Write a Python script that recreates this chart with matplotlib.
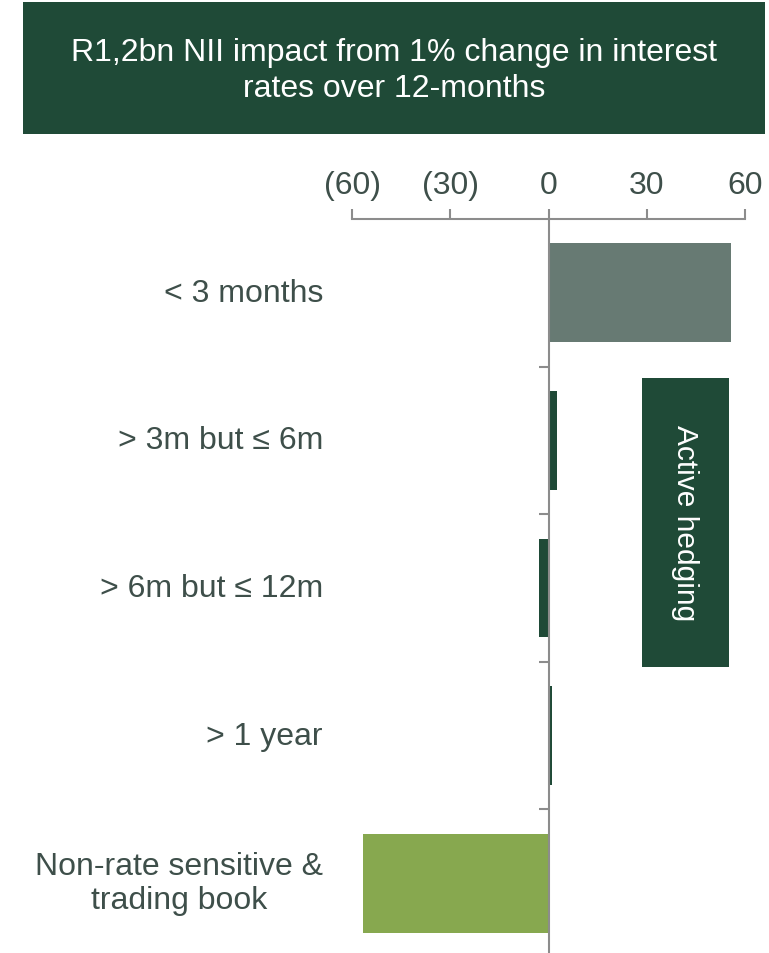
import matplotlib
matplotlib.use("Agg")
import matplotlib.pyplot as plt
from matplotlib.patches import Rectangle
import matplotlib.transforms as mtransforms

plt.rcParams['font.family'] = ['Liberation Sans', 'DejaVu Sans']

categories = ["< 3 months", "> 3m but \u2264 6m", "> 6m but \u2264 12m", "> 1 year",
              "Non-rate sensitive &\ntrading book"]
values = [55.8, 2.6, -3.0, 1.1, -56.5]
bar_colors = ["#677a73", "#1f4a37", "#1f4a37", "#1f4a37", "#87a84f"]
x_ticks = [-60, -30, 0, 30, 60]
x_tick_labels = ["(60)", "(30)", "0", "30", "60"]
title = "R1,2bn NII impact from 1% change in interest\nrates over 12-months"
hedge_label = "Active hedging"
hedge_range = (28.4, 55.2)
hedge_cats = (1, 2)

TEXT = "#3e4f4a"
AXC = "#8c8c8c"
DARK = "#1f4a37"

W, H = 769, 954
fig = plt.figure(figsize=(W / 100, H / 100), dpi=100)

# title box
fig.patches.append(Rectangle((23 / W, 1 - 135 / H), (765 - 23) / W, (135 - 3) / H,
                             transform=fig.transFigure, facecolor=DARK, edgecolor='none'))
fig.text((23 + 765) / 2 / W, 1 - 71 / H, title, ha='center', va='center',
         color='white', fontsize=23, linespacing=1.3)

ax = fig.add_axes([352 / W, -4 / H, (745 - 352) / W, 738 / H])
ypos = list(range(len(categories)))
ax.barh(ypos, values, height=0.67, color=bar_colors, zorder=2)
ax.set_xlim(-60, 60)
ax.set_ylim(len(categories) - 0.5, -0.5)

ax.xaxis.tick_top()
ax.set_xticks(x_ticks)
ax.set_xticklabels(x_tick_labels, fontsize=23, color=TEXT)
ax.tick_params(axis='x', length=7, width=1.5, color=AXC, pad=7)

ax.set_yticks([i + 0.5 for i in ypos[:-1]])
ax.set_yticklabels([])
ax.tick_params(axis='y', length=7, width=1.5, color=AXC)

for s in ['right', 'bottom']:
    ax.spines[s].set_visible(False)
ax.spines['top'].set_color(AXC)
ax.spines['top'].set_linewidth(1.5)
ax.spines['left'].set_color(AXC)
ax.spines['left'].set_linewidth(1.5)
ax.spines['left'].set_position(('data', 0))
ax.spines['left'].set_zorder(3)

# category labels, right-aligned left of the axes
lab_tr = ax.get_yaxis_transform() + mtransforms.ScaledTranslation(-29 / 100, 0, fig.dpi_scale_trans)
for i, c in enumerate(categories):
    ax.text(0.0, i, c, transform=lab_tr, ha='right', va='center',
            fontsize=23, color=TEXT, multialignment='center', linespacing=1.15)

# active hedging box
y0 = hedge_cats[0] - 0.5 + 0.077
y1 = hedge_cats[1] + 0.5 + 0.035
ax.add_patch(Rectangle((hedge_range[0], y0), hedge_range[1] - hedge_range[0], y1 - y0,
                       facecolor=DARK, edgecolor='none', zorder=2))
ax.text((hedge_range[0] + hedge_range[1]) / 2, (y0 + y1) / 2, hedge_label, rotation=-90,
        ha='center', va='center', color='white', fontsize=21.5, zorder=3)

fig.savefig("out.png", dpi=100)
